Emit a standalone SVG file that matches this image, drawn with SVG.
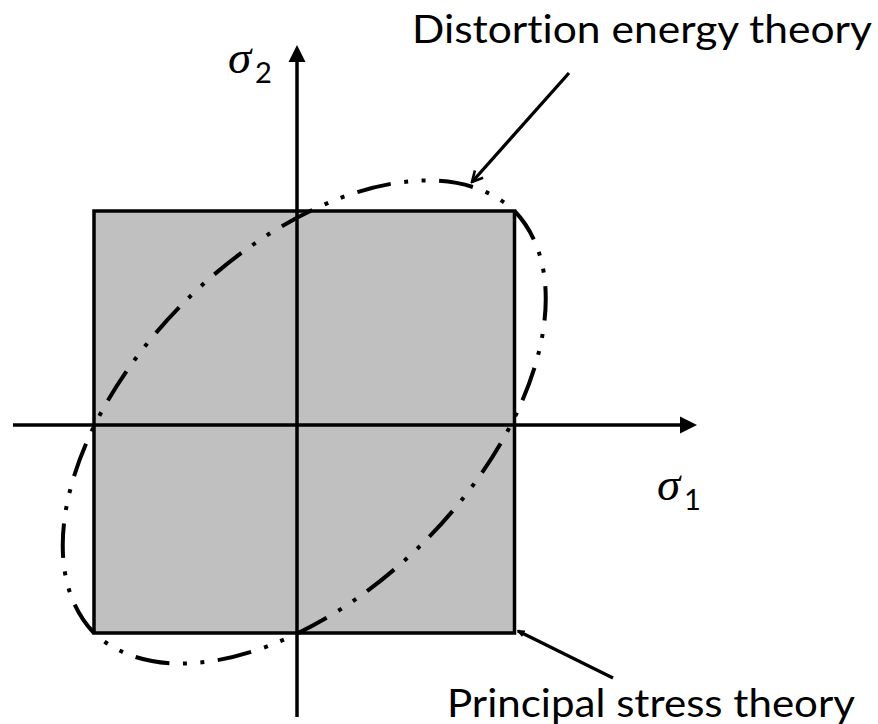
<svg xmlns="http://www.w3.org/2000/svg" width="878" height="724" viewBox="0 0 878 724">
  <style>
    .edge { stroke: #000; stroke-width: 3.5; fill: none; }
    .leader { stroke: #000; stroke-width: 3.3; fill: none; }
    .lbl { font-family: "Lato", "Open Sans", "Liberation Sans", sans-serif; font-size: 39px; fill: #000; font-variant-ligatures: none; font-feature-settings: "liga" 0, "dlig" 0, "clig" 0; }
    .sym { font-family: "Liberation Serif", "DejaVu Serif", serif; font-style: italic; font-size: 47px; fill: #000; }
    .sub { font-family: "Lato", "Liberation Sans", sans-serif; font-size: 29px; fill: #000; }
  </style>
  <defs>
    <marker id="openArrow" markerUnits="userSpaceOnUse" viewBox="0 0 14 14" refX="12" refY="7" markerWidth="14" markerHeight="14" orient="auto">
      <path d="M1.5,1.5 L12,7 L1.5,12.5" fill="none" stroke="#000" stroke-width="2.6"/>
    </marker>
    <marker id="openArrowSmall" markerUnits="userSpaceOnUse" viewBox="0 0 10 10" refX="9" refY="5" markerWidth="8" markerHeight="8" orient="auto">
      <path d="M1,1.5 L9,5 L1,8.5" fill="none" stroke="#000" stroke-width="2"/>
    </marker>
  </defs>
  <rect width="878" height="724" fill="#fff"/>

  <g id="principal-stress-square">
    <rect x="94" y="211" width="420.5" height="422" fill="#C0C0C0" stroke="#000" stroke-width="3.5"/>
  </g>

  <g id="axes">
    <g id="sigma1-axis">
      <line x1="13" y1="425" x2="682" y2="425" class="edge"/>
      <polygon points="697,425 680,416.5 680,433.5" fill="#000"/>
    </g>
    <g id="sigma2-axis">
      <line x1="297" y1="717" x2="297" y2="60" class="edge"/>
      <polygon points="297,45 288.5,62 305.5,62" fill="#000"/>
    </g>
  </g>

  <g id="distortion-energy-ellipse">
    <path d="M 514.5 211 A 297.9 172 -45 0 1 94 633 A 297.9 172 -45 0 1 514.5 211 Z" pathLength="1800" fill="none" stroke="#000" stroke-width="4" stroke-linecap="butt" stroke-dasharray="41.6 16.2 4.8 16.2 4.8 16.4"/>
  </g>

  <g id="axis-labels">
    <g id="label-sigma2">
      <text x="228" y="73" class="sym">σ</text>
      <text x="255" y="83" class="sub">2</text>
    </g>
    <g id="label-sigma1">
      <text x="657" y="500" class="sym">σ</text>
      <text x="684" y="510" class="sub">1</text>
    </g>
  </g>

  <g id="label-distortion">
    <text x="412" y="43" class="lbl" textLength="460" lengthAdjust="spacingAndGlyphs">Distortion energy theory</text>
  </g>
  <g id="label-principal">
    <text x="447" y="717" class="lbl" textLength="408" lengthAdjust="spacingAndGlyphs">Principal stress theory</text>
  </g>

  <g id="connectors">
    <line x1="569" y1="73" x2="472" y2="182" class="leader" marker-end="url(#openArrow)"/>
    <line x1="613" y1="678" x2="518" y2="631" class="leader" marker-end="url(#openArrowSmall)"/>
  </g>
</svg>
